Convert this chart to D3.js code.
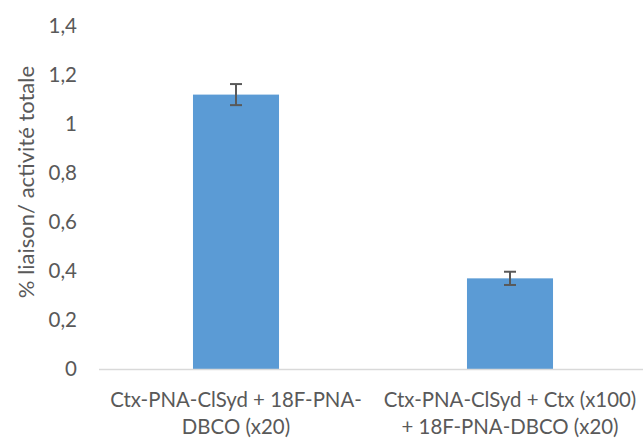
<!DOCTYPE html>
<html>
<head>
<meta charset="utf-8">
<script src="https://cdn.jsdelivr.net/npm/d3@7"></script>
<style>
  html, body { margin: 0; padding: 0; background: #fff; }
  svg { display: block; }
  text { font-family: Lato, "Open Sans", sans-serif; fill: #595959; }
</style>
</head>
<body>
<svg id="chart" width="643" height="439"></svg>
<script>
const categories = [
  ["Ctx-PNA-ClSyd + 18F-PNA-", "DBCO (x20)"],
  ["Ctx-PNA-ClSyd + Ctx (x100)", "+ 18F-PNA-DBCO (x20)"]
];
const values = [1.12, 0.37];
const errors = [0.043, 0.027];
const yTicks = [0, 0.2, 0.4, 0.6, 0.8, 1, 1.2, 1.4];
const yTickLabels = ["0", "0,2", "0,4", "0,6", "0,8", "1", "1,2", "1,4"];
const yTitle = "% liaison/ activité totale";

const svg = d3.select("#chart");
const plot = { left: 99, right: 647, top: 26, bottom: 369 };

const x = d3.scaleBand()
  .domain(d3.range(categories.length))
  .range([plot.left, plot.right])
  .paddingInner(0.686)
  .paddingOuter(0.343);

const y = d3.scaleLinear().domain([0, 1.4]).range([plot.bottom, plot.top]);

// Y axis (labels only)
const yAxis = d3.axisLeft(y)
  .tickValues(yTicks)
  .tickFormat((d, i) => yTickLabels[i])
  .tickSize(0)
  .tickPadding(0);
const yg = svg.append("g").attr("transform", "translate(77,0)").call(yAxis);
yg.select(".domain").remove();
yg.selectAll("text").style("font-size", "20.5px").attr("fill", "#555").attr("dy", "0.33em");

// Bars
svg.append("g").selectAll("rect").data(values).join("rect")
  .attr("x", (d, i) => x(i))
  .attr("width", x.bandwidth())
  .attr("y", d => y(d))
  .attr("height", d => y(0) - y(d))
  .attr("fill", "#5B9BD5");

// Baseline
svg.append("line")
  .attr("x1", plot.left).attr("x2", plot.right)
  .attr("y1", y(0) + 0.5).attr("y2", y(0) + 0.5)
  .attr("stroke", "#D9D9D9").attr("stroke-width", 1.5);

// Error bars
const eg = svg.append("g").attr("stroke", "#595959").attr("stroke-width", 2);
values.forEach((v, i) => {
  const cx = x(i) + x.bandwidth() / 2;
  const y1 = y(v + errors[i]), y2 = y(v - errors[i]);
  eg.append("line").attr("x1", cx).attr("x2", cx).attr("y1", y1).attr("y2", y2);
  eg.append("line").attr("x1", cx - 6).attr("x2", cx + 6).attr("y1", y1).attr("y2", y1);
  eg.append("line").attr("x1", cx - 6).attr("x2", cx + 6).attr("y1", y2).attr("y2", y2);
});

// X labels
const xg = svg.append("g");
categories.forEach((lines, i) => {
  const cx = x(i) + x.bandwidth() / 2;
  const t = xg.append("text")
    .attr("text-anchor", "middle")
    .attr("fill", "#555")
    .style("font-size", "20.4px");
  lines.forEach((ln, j) => {
    t.append("tspan").attr("x", cx).attr("y", 407 + j * 27).text(ln);
  });
});

// Y title
svg.append("text")
  .attr("transform", `translate(34, 182) rotate(-90)`)
  .attr("text-anchor", "middle")
  .attr("fill", "#555")
  .style("font-size", "22px")
  .text(yTitle);
</script>
</body>
</html>
